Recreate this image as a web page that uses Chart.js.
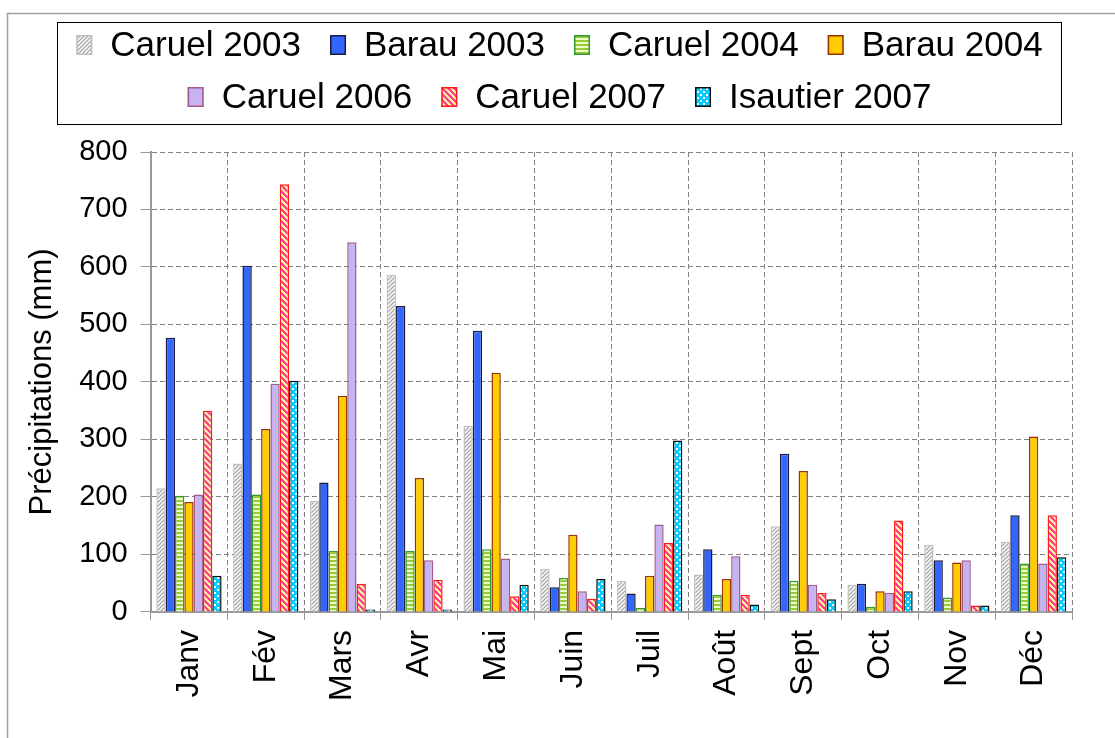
<!DOCTYPE html>
<html lang="fr">
  <head>
    <meta charset="UTF-8" />
    <title>Précipitations mensuelles</title>
    <script src="https://cdn.jsdelivr.net/npm/chart.js"></script>
    <style>
      body { margin: 0; background: #fff; }
    </style>
  </head>
  <body>
    <canvas id="rainChart" width="1115" height="738"></canvas>
    <script>
      // month labels and monthly rainfall (mm) per station/year
      const months = ["Janv", "Fév", "Mars", "Avr", "Mai", "Juin", "Juil", "Août", "Sept", "Oct", "Nov", "Déc"];
      const caruel2003 = [215, 258, 193, 586, 324, 75, 54, 65, 149, 47, 117, 122];
      const barau2003 = [477, 602, 225, 532, 489, 43, 32, 109, 275, 49, 90, 168];
      const caruel2004 = [202, 204, 106, 106, 109, 59, 7, 30, 54, 9, 25, 84];
      const barau2004 = [191, 318, 376, 233, 416, 134, 63, 57, 245, 36, 86, 305];
      const caruel2006 = [204, 397, 643, 90, 93, 36, 152, 97, 47, 33, 90, 84];
      const caruel2007 = [350, 744, 49, 56, 27, 23, 120, 30, 33, 159, 11, 168];
      const isautier2007 = [63, 402, 4, 4, 47, 57, 298, 13, 22, 36, 11, 95];
      const yTicks = [0, 100, 200, 300, 400, 500, 600, 700, 800];

      const FONT = "'Liberation Sans', Arial, sans-serif";

      // small helper to build a repeating fill pattern
      function makePattern(size, draw) {
        const c = document.createElement("canvas");
        c.width = size;
        c.height = size;
        const g = c.getContext("2d");
        draw(g, size);
        return document.getElementById("rainChart").getContext("2d").createPattern(c, "repeat");
      }

      const hatchGray = makePattern(4, (g, s) => {
        g.fillStyle = "#ffffff";
        g.fillRect(0, 0, s, s);
        g.strokeStyle = "#a8a8a8";
        g.lineWidth = 1.3;
        g.beginPath();
        g.moveTo(-1, s + 1); g.lineTo(s + 1, -1);
        g.moveTo(-1, 1); g.lineTo(1, -1);
        g.moveTo(s - 1, s + 1); g.lineTo(s + 1, s - 1);
        g.stroke();
      });

      const stripesGreen = makePattern(4, (g, s) => {
        g.fillStyle = "#eefcc8";
        g.fillRect(0, 0, s, s);
        g.fillStyle = "#99cc33";
        g.fillRect(0, 0, s, 2);
      });

      const dotsLavender = makePattern(4, (g, s) => {
        g.fillStyle = "#c2b6f2";
        g.fillRect(0, 0, s, s);
        g.fillStyle = "#e6a8dc";
        g.fillRect(0, 0, 1, 1);
      });

      const diagRed = makePattern(6, (g, s) => {
        g.fillStyle = "#ffff99";
        g.fillRect(0, 0, s, s);
        g.strokeStyle = "#ff3399";
        g.lineWidth = 2.2;
        g.beginPath();
        g.moveTo(-1, -1); g.lineTo(s + 1, s + 1);
        g.moveTo(-1, s - 1); g.lineTo(1, s + 1);
        g.moveTo(s - 1, -1); g.lineTo(s + 1, 1);
        g.stroke();
      });

      const dotsCyan = makePattern(6, (g, s) => {
        g.fillStyle = "#00ccff";
        g.fillRect(0, 0, s, s);
        g.fillStyle = "#ffffff";
        g.fillRect(1, 1, 2, 2);
        g.fillRect(4, 4, 2, 2);
      });

      const datasets = [
        { label: "Caruel 2003", data: caruel2003, backgroundColor: hatchGray, borderColor: "#c0c0c0" },
        { label: "Barau 2003", data: barau2003, backgroundColor: "#3366ff", borderColor: "#1a1a3a" },
        { label: "Caruel 2004", data: caruel2004, backgroundColor: stripesGreen, borderColor: "#339933" },
        { label: "Barau 2004", data: barau2004, backgroundColor: "#ffcc00", borderColor: "#993300" },
        { label: "Caruel 2006", data: caruel2006, backgroundColor: dotsLavender, borderColor: "#a05a8c" },
        { label: "Caruel 2007", data: caruel2007, backgroundColor: diagRed, borderColor: "#ff1a1a" },
        { label: "Isautier 2007", data: isautier2007, backgroundColor: dotsCyan, borderColor: "#111111" },
      ].map((d) => Object.assign(d, { borderWidth: 1.5, categoryPercentage: 0.85, barPercentage: 1.0 }));

      // outer frame + boxed two-row legend, drawn on the canvas
      const framePlugin = {
        id: "frameAndLegend",
        beforeDraw(chart) {
          const ctx = chart.ctx;
          ctx.save();
          ctx.strokeStyle = "#a0a0a0";
          ctx.lineWidth = 1.5;
          ctx.beginPath();
          ctx.moveTo(7.5, chart.height);
          ctx.lineTo(7.5, 13.5);
          ctx.lineTo(chart.width, 13.5);
          ctx.stroke();
          ctx.restore();
        },
        afterDraw(chart) {
          const ctx = chart.ctx;
          const rows = [[0, 1, 2, 3], [4, 5, 6]];
          const rowY = [45, 97];
          const sw = 16, sh = 20, textGap = 18, itemGap = 29;
          ctx.save();
          ctx.font = "35px " + FONT;
          ctx.textBaseline = "middle";
          ctx.textAlign = "left";
          const cx = chart.width / 2 + 2;
          rows.forEach((row, r) => {
            const widths = row.map((i) => sw + textGap + ctx.measureText(chart.data.datasets[i].label).width);
            const total = widths.reduce((a, b) => a + b, 0) + itemGap * (row.length - 1);
            let x = cx - total / 2;
            row.forEach((i, k) => {
              const ds = chart.data.datasets[i];
              const y = rowY[r];
              ctx.fillStyle = ds.backgroundColor;
              ctx.fillRect(x, y - sh / 2, sw, sh);
              ctx.strokeStyle = ds.borderColor;
              ctx.lineWidth = 1.5;
              ctx.strokeRect(x + 0.75, y - sh / 2 + 0.75, sw - 1.5, sh - 1.5);
              ctx.fillStyle = "#000";
              ctx.fillText(ds.label, x + sw + textGap, y + 1);
              x += widths[k] + itemGap;
            });
          });
          ctx.strokeStyle = "#000";
          ctx.lineWidth = 1;
          ctx.strokeRect(57.5, 22.5, 1004, 102);
          ctx.restore();
        },
      };

      new Chart(document.getElementById("rainChart"), {
        type: "bar",
        data: { labels: months, datasets: datasets },
        options: {
          responsive: false,
          animation: false,
          devicePixelRatio: 1,
          layout: { padding: { left: 24, right: 43, top: 152, bottom: 27 } },
          plugins: {
            legend: { display: false },
            tooltip: { enabled: false },
          },
          scales: {
            x: {
              grid: {
                color: "#808080",
                lineWidth: 1,
                tickLength: 8,
                tickColor: "#999999",
              },
              border: { color: "#999999", width: 2, dash: [5, 3] },
              ticks: {
                color: "#000",
                font: { family: FONT, size: 32 },
                minRotation: 90,
                maxRotation: 90,
                padding: 10,
              },
            },
            y: {
              min: 0,
              max: 800,
              afterBuildTicks(axis) {
                axis.ticks = yTicks.map((v) => ({ value: v }));
              },
              grid: {
                color: "#808080",
                lineWidth: 1,
                tickLength: 10,
                tickColor: "#999999",
              },
              border: { color: "#999999", width: 2, dash: [5, 3] },
              ticks: {
                color: "#000",
                font: { family: FONT, size: 29 },
                padding: 13,
              },
              title: {
                display: true,
                text: "Précipitations (mm)",
                color: "#000",
                font: { family: FONT, size: 31 },
                padding: { top: 0, bottom: 5 },
              },
            },
          },
        },
        plugins: [framePlugin],
      });
    </script>
  </body>
</html>
